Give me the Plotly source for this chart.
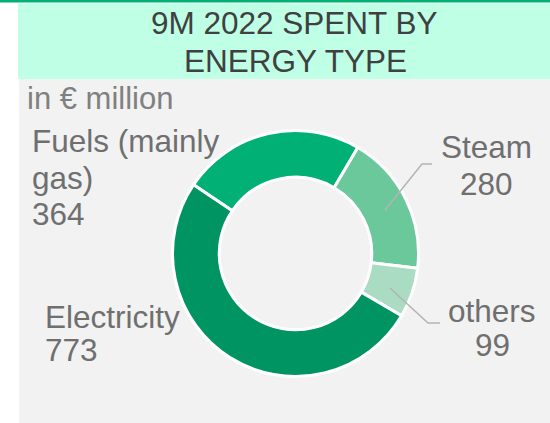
import plotly.graph_objects as go

# Data
categories = ["Fuels (mainly", "Steam", "others", "Electricity"]
category_line2 = ["gas)", "", "", ""]
values = [364, 280, 99, 773]
colors = ["#00B074", "#6AC89B", "#A9DCC2", "#009463"]
title_lines = ["9M 2022 SPENT BY", "ENERGY TYPE"]
unit_text = "in € million"

W, H = 550, 423

def px(x):
    return x / W

def py(y):
    return 1 - y / H

cx, cy, r = 295.5, 253.5, 123

fig = go.Figure()
fig.add_trace(go.Pie(
    labels=[c + (" " + l2 if l2 else "") for c, l2 in zip(categories, category_line2)],
    values=values,
    sort=False,
    direction="clockwise",
    rotation=-56,
    hole=0.62,
    textinfo="none",
    hoverinfo="label+value",
    marker=dict(colors=colors, line=dict(color="white", width=3)),
    domain=dict(x=[px(cx - r), px(cx + r)], y=[py(cy + r), py(cy - r)]),
    showlegend=False,
))

shapes = [
    dict(type="rect", xref="paper", yref="paper", x0=0, x1=1, y0=py(2.5), y1=1,
         fillcolor="#00B074", line=dict(width=0), layer="below"),
    dict(type="rect", xref="paper", yref="paper", x0=px(18), x1=1, y0=py(79), y1=py(3.5),
         fillcolor="#BEFFE5", line=dict(width=0), layer="below"),
    dict(type="rect", xref="paper", yref="paper", x0=px(19), x1=1, y0=0, y1=py(79),
         fillcolor="#F2F2F2", line=dict(width=0), layer="below"),
    # leader lines
    dict(type="path", xref="paper", yref="paper",
         path=f"M {px(385)} {py(210)} L {px(422)} {py(164)} L {px(432)} {py(164)}",
         line=dict(color="#B4B4B4", width=1.5)),
    dict(type="path", xref="paper", yref="paper",
         path=f"M {px(390)} {py(288)} L {px(428)} {py(323)} L {px(440)} {py(323)}",
         line=dict(color="#B4B4B4", width=1.5)),
]

FAM = "Liberation Sans, Arial, sans-serif"
lab_font = dict(family=FAM, size=31.5, color="#6F6F6F")

def ann(text, x, y, xanchor, font):
    return dict(text=text, x=px(x), y=py(y), xref="paper", yref="paper",
                xanchor=xanchor, yanchor="middle", showarrow=False, font=font,
                borderpad=0)

title_font = dict(family=FAM, size=31.5, color="#404040")
annotations = [
    ann(title_lines[0], 294, 23, "center", title_font),
    ann(title_lines[1], 295, 60.5, "center", title_font),
    ann(unit_text, 26, 98, "left", dict(family=FAM, size=31, color="#808080")),
    # Fuels
    ann(categories[0], 31, 141, "left", lab_font),
    ann(category_line2[0], 31, 177.5, "left", lab_font),
    ann(str(values[0]), 31, 213.5, "left", lab_font),
    # Electricity
    ann(categories[3], 44, 316.5, "left", lab_font),
    ann(str(values[3]), 44, 349.5, "left", lab_font),
    # Steam
    ann(categories[1], 486, 146.5, "center", lab_font),
    ann(str(values[1]), 486, 183.5, "center", lab_font),
    # others
    ann(categories[2], 492, 311, "center", lab_font),
    ann(str(values[2]), 492, 344.5, "center", lab_font),
]

fig.update_layout(
    width=W, height=H,
    margin=dict(l=0, r=0, t=0, b=0),
    paper_bgcolor="white",
    plot_bgcolor="white",
    shapes=shapes,
    annotations=annotations,
)

fig.write_html("out.html", config={"displayModeBar": False},
               post_script="document.body.style.margin='0';document.body.style.overflow='hidden';")
